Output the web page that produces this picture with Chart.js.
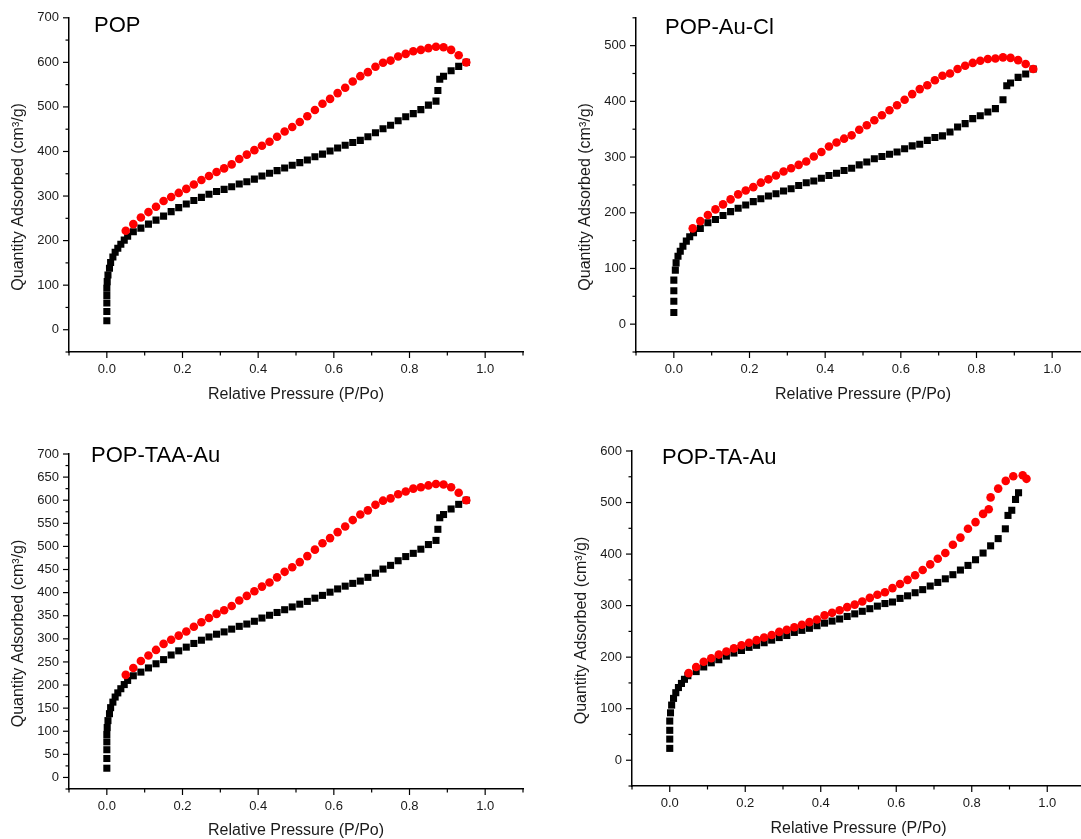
<!DOCTYPE html>
<html>
<head>
<meta charset="utf-8">
<script src="https://cdn.jsdelivr.net/npm/chart.js@4"></script>
<style>
  html, body { margin: 0; padding: 0; background: #fff; width: 1081px; height: 839px; overflow: hidden; }
  canvas { position: absolute; }
</style>
</head>
<body>
<canvas id="pop" width="540" height="415" style="left:0;top:0"></canvas>
<canvas id="popAuCl" width="560" height="415" style="left:540px;top:0"></canvas>
<canvas id="popTaaAu" width="540" height="409" style="left:0;top:430px"></canvas>
<canvas id="popTaAu" width="560" height="409" style="left:540px;top:430px"></canvas>
<script>
// ---- data (x = P/Po, y = cm3/g) ----

// POP
const popAdsX = [0, 0, 0, 0, 0, 0.001, 0.003, 0.007, 0.010, 0.016, 0.022, 0.029, 0.037, 0.046, 0.055,
  0.07, 0.09, 0.11, 0.13, 0.15, 0.17, 0.19, 0.21, 0.23, 0.25, 0.27, 0.29, 0.31, 0.33, 0.35, 0.37, 0.39,
  0.41, 0.43, 0.45, 0.47, 0.49, 0.51, 0.53, 0.55, 0.57, 0.59, 0.61, 0.63, 0.65, 0.67, 0.69, 0.71, 0.73,
  0.75, 0.77, 0.79, 0.81, 0.83, 0.85, 0.87, 0.875, 0.88, 0.89, 0.91, 0.93, 0.95];
const popAdsY = [20, 41, 60, 77, 93, 108, 123, 138, 151, 163, 174, 183, 192, 201, 210,
  220, 228, 237, 246, 255, 265, 274, 282, 290, 297, 304, 310, 315, 321, 327, 332, 338,
  345, 351, 357, 363, 369, 375, 381, 388, 394, 401, 408, 414, 420, 425, 433, 442, 451,
  459, 469, 478, 485, 494, 504, 513, 537, 562, 569, 581, 591, 600];
const popDesX = [0.05, 0.07, 0.09, 0.11, 0.13, 0.15, 0.17, 0.19, 0.21, 0.23, 0.25, 0.27, 0.29, 0.31,
  0.33, 0.35, 0.37, 0.39, 0.41, 0.43, 0.45, 0.47, 0.49, 0.51, 0.53, 0.55, 0.57, 0.59, 0.61, 0.63, 0.65,
  0.67, 0.69, 0.71, 0.73, 0.75, 0.77, 0.79, 0.81, 0.83, 0.85, 0.87, 0.89, 0.91, 0.93, 0.95];
const popDesY = [222, 237, 252, 264, 276, 289, 298, 307, 316, 326, 336, 345, 354, 362,
  371, 383, 393, 403, 413, 422, 433, 445, 455, 466, 479, 493, 507, 518, 531, 543, 557,
  569, 578, 590, 599, 604, 613, 619, 625, 628, 632, 635, 634, 628, 616, 600];

// POP-Au-Cl
const auClAdsX = [0, 0, 0, 0, 0.004, 0.006, 0.011, 0.017, 0.024, 0.033, 0.042, 0.052,
  0.07, 0.09, 0.11, 0.13, 0.15, 0.17, 0.19, 0.21, 0.23, 0.25, 0.27, 0.29, 0.31, 0.33, 0.35, 0.37,
  0.39, 0.41, 0.43, 0.45, 0.47, 0.49, 0.51, 0.53, 0.55, 0.57, 0.59, 0.61, 0.63, 0.65, 0.67, 0.69,
  0.71, 0.73, 0.75, 0.77, 0.79, 0.81, 0.83, 0.85, 0.87, 0.88, 0.89, 0.91, 0.93, 0.95];
const auClAdsY = [21, 41, 60, 79, 97, 110, 122, 131, 140, 149, 157, 164,
  172, 182, 188, 195, 202, 208, 214, 220, 225, 230, 234, 239, 243, 249, 254, 257,
  262, 267, 271, 276, 280, 286, 291, 297, 301, 305, 309, 315, 320, 323, 330, 335,
  338, 345, 354, 360, 369, 374, 381, 387, 403, 428, 433, 443, 449, 458];
const auClDesX = popDesX;
const auClDesY = [172, 185, 196, 206, 215, 224, 233, 240, 246, 254, 260, 267, 274, 280,
  286, 292, 301, 309, 319, 326, 333, 339, 349, 357, 366, 375, 384, 393, 403, 413, 422,
  429, 438, 446, 450, 458, 464, 469, 473, 476, 477, 479, 478, 474, 467, 458];

// POP-TAA-Au (same isotherm as POP in the figure)
const taaAdsX = popAdsX, taaAdsY = popAdsY;
const taaDesX = popDesX, taaDesY = popDesY;

// POP-TA-Au
const taAdsX = [0, 0, 0, 0, 0.002, 0.005, 0.010, 0.016, 0.023, 0.031, 0.039, 0.048,
  0.07, 0.09, 0.11, 0.13, 0.15, 0.17, 0.19, 0.21, 0.23, 0.25, 0.27, 0.29, 0.31, 0.33, 0.35, 0.37,
  0.39, 0.41, 0.43, 0.45, 0.47, 0.49, 0.51, 0.53, 0.55, 0.57, 0.59, 0.61, 0.63, 0.65, 0.67, 0.69,
  0.71, 0.73, 0.75, 0.77, 0.79, 0.81, 0.83, 0.85, 0.87, 0.889, 0.896, 0.906, 0.916, 0.924];
const taAdsY = [23, 41, 58, 76, 92, 107, 120, 131, 141, 149, 157, 164,
  172, 181, 189, 195, 202, 208, 213, 219, 223, 228, 233, 238, 242, 248, 252, 256,
  261, 266, 270, 274, 279, 284, 289, 294, 299, 304, 307, 314, 319, 325, 331, 338,
  345, 352, 360, 369, 378, 389, 402, 416, 430, 449, 475, 485, 506, 519];
const taDesX = [0.05, 0.07, 0.09, 0.11, 0.13, 0.15, 0.17, 0.19, 0.21, 0.23, 0.25, 0.27, 0.29, 0.31,
  0.33, 0.35, 0.37, 0.39, 0.41, 0.43, 0.45, 0.47, 0.49, 0.51, 0.53, 0.55, 0.57, 0.59, 0.61, 0.63, 0.65,
  0.67, 0.69, 0.71, 0.73, 0.75, 0.77, 0.79, 0.81, 0.83, 0.845, 0.85, 0.87, 0.89, 0.91, 0.935, 0.945];
const taDesY = [169, 181, 191, 198, 205, 211, 217, 223, 228, 233, 238, 243, 249, 253,
  258, 263, 268, 273, 281, 286, 291, 297, 302, 308, 315, 321, 326, 334, 342, 350, 359,
  369, 380, 391, 402, 418, 432, 449, 462, 478, 487, 510, 527, 542, 551, 553, 546];

const xTitle = 'Relative Pressure (P/Po)';
const yTitle = 'Quantity Adsorbed (cm³/g)';

Chart.defaults.font.family = "'Liberation Sans', Arial, sans-serif";
Chart.defaults.color = '#1a1a1a';

function pts(xs, ys) {
  return xs.map((x, i) => ({ x: x, y: ys[i] }));
}

// tick marks (long for labelled, short for the rest) plus the texts around the frame
const frame = {
  id: 'frame',
  afterDraw(chart, args, o) {
    const ctx = chart.ctx;
    const a = chart.chartArea;
    const xs = chart.scales.x, ys = chart.scales.y;
    ctx.save();
    ctx.strokeStyle = '#000';
    ctx.lineWidth = 1.2;
    xs.ticks.forEach(t => {
      const px = xs.getPixelForValue(t.value);
      ctx.beginPath();
      ctx.moveTo(px, a.bottom);
      ctx.lineTo(px, a.bottom + (t.label ? 6 : 3.5));
      ctx.stroke();
    });
    ys.ticks.forEach(t => {
      const py = ys.getPixelForValue(t.value);
      ctx.beginPath();
      ctx.moveTo(a.left, py);
      ctx.lineTo(a.left - (t.label ? 6 : 3.5), py);
      ctx.stroke();
    });
    ctx.fillStyle = '#000';
    ctx.font = "22px 'Liberation Sans', Arial, sans-serif";
    ctx.textAlign = 'left';
    ctx.textBaseline = 'alphabetic';
    ctx.fillText(o.name, a.left + o.nameDx, a.top + o.nameDy);
    ctx.fillStyle = '#1a1a1a';
    ctx.font = "16px 'Liberation Sans', Arial, sans-serif";
    ctx.textAlign = 'center';
    ctx.textBaseline = 'middle';
    ctx.fillText(xTitle, (a.left + a.right) / 2, a.bottom + o.xTitleDy);
    ctx.translate(a.left - 50, (a.top + a.bottom) / 2 + 12);
    ctx.rotate(-Math.PI / 2);
    ctx.fillText(yTitle, 0, 0);
    ctx.restore();
  }
};

function makeChart(id, p) {
  new Chart(document.getElementById(id), {
    type: 'scatter',
    data: {
      datasets: [{
        label: 'Adsorption',
        data: pts(p.adsX, p.adsY),
        pointStyle: 'rect',
        pointRadius: 5,
        borderWidth: 0,
        backgroundColor: '#000',
        borderColor: '#000',
        order: 2
      }, {
        label: 'Desorption',
        data: pts(p.desX, p.desY),
        pointStyle: 'circle',
        pointRadius: 4.3,
        borderWidth: 0,
        backgroundColor: '#ff0000',
        borderColor: '#ff0000',
        order: 1
      }]
    },
    options: {
      responsive: false,
      animation: false,
      layout: { padding: { top: p.padTop, right: p.padRight, left: 0, bottom: 0 } },
      plugins: {
        legend: { display: false },
        tooltip: { enabled: false },
        frame: { name: p.name, nameDx: p.nameDx, nameDy: p.nameDy, xTitleDy: p.xTitleDy }
      },
      scales: {
        x: {
          type: 'linear',
          min: -0.1,
          max: 1.1,
          afterFit: s => { s.height = p.xHeight; },
          border: { display: true, color: '#000', width: 1.5 },
          grid: { drawOnChartArea: false, drawTicks: false },
          ticks: {
            stepSize: 0.1,
            maxTicksLimit: 100,
            autoSkip: false,
            maxRotation: 0,
            padding: 10,
            font: { size: 13 },
            callback: v => (Math.round(v * 10) % 2 === 0 ? (Math.round(v * 10) / 10).toFixed(1) : '')
          }
        },
        y: {
          type: 'linear',
          min: p.yMin,
          max: p.yMax,
          afterFit: s => { s.width = p.yWidth; },
          border: { display: true, color: '#000', width: 1.5 },
          grid: { drawOnChartArea: false, drawTicks: false },
          ticks: {
            stepSize: p.yStep,
            maxTicksLimit: 100,
            autoSkip: false,
            padding: 10,
            font: { size: 13 },
            callback: v => (Math.round(v) % p.yLabelStep === 0 ? String(Math.round(v)) : '')
          }
        }
      }
    },
    plugins: [frame]
  });
}

makeChart('pop', {
  name: 'POP', adsX: popAdsX, adsY: popAdsY, desX: popDesX, desY: popDesY,
  yMin: -50, yMax: 700, yStep: 50, yLabelStep: 100,
  yWidth: 69, xHeight: 63, padTop: 17, padRight: 17,
  nameDx: 25, nameDy: 14, xTitleDy: 43
});
makeChart('popAuCl', {
  name: 'POP-Au-Cl', adsX: auClAdsX, adsY: auClAdsY, desX: auClDesX, desY: auClDesY,
  yMin: -50, yMax: 550, yStep: 50, yLabelStep: 100,
  yWidth: 96, xHeight: 63, padTop: 17, padRight: 10,
  nameDx: 29, nameDy: 16, xTitleDy: 43
});
makeChart('popTaaAu', {
  name: 'POP-TAA-Au', adsX: taaAdsX, adsY: taaAdsY, desX: taaDesX, desY: taaDesY,
  yMin: -25, yMax: 700, yStep: 25, yLabelStep: 50,
  yWidth: 69, xHeight: 50, padTop: 24, padRight: 17,
  nameDx: 22, nameDy: 8, xTitleDy: 42
});
makeChart('popTaAu', {
  name: 'POP-TA-Au', adsX: taAdsX, adsY: taAdsY, desX: taDesX, desY: taDesY,
  yMin: -50, yMax: 600, yStep: 50, yLabelStep: 100,
  yWidth: 92, xHeight: 53, padTop: 21, padRight: 15,
  nameDx: 30, nameDy: 13, xTitleDy: 43
});
</script>
</body>
</html>
